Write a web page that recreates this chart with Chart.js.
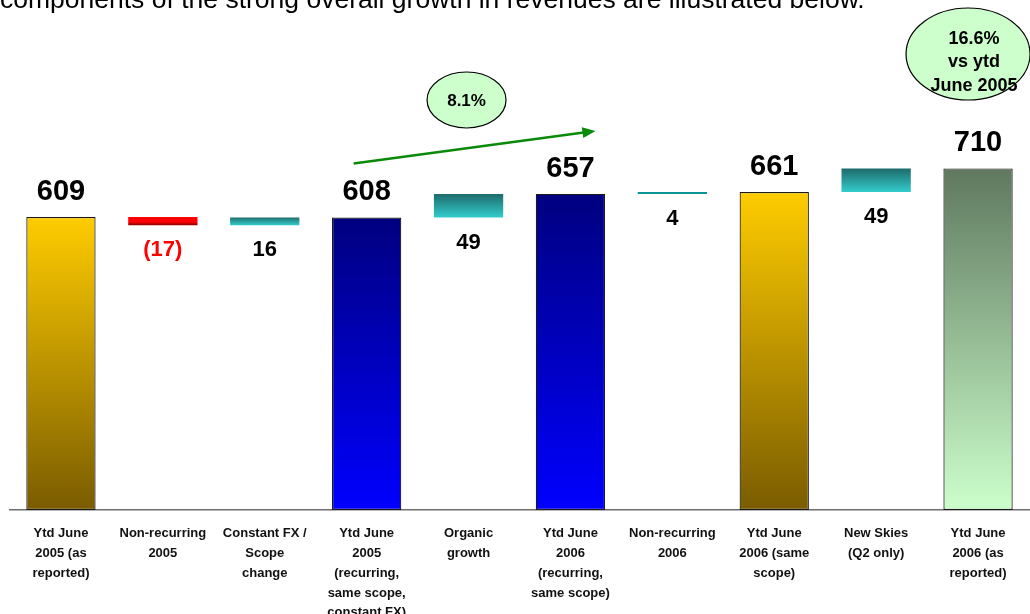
<!DOCTYPE html>
<html>
<head>
<meta charset="utf-8">
<title>Revenue bridge</title>
<script src="https://cdn.jsdelivr.net/npm/chart.js@4/dist/chart.umd.min.js"></script>
<style>
  html, body { margin: 0; padding: 0; background: #fff; }
  #wrap { width: 1030px; height: 614px; position: relative; }
</style>
</head>
<body>
<div id="wrap"><canvas id="myChart"></canvas></div>
<script>
'use strict';

// categories (multi-line x labels)
let categories = [
  ['Ytd June', '2005 (as', 'reported)'],
  ['Non-recurring', '2005'],
  ['Constant FX /', 'Scope', 'change'],
  ['Ytd June', '2005', '(recurring,', 'same scope,', 'constant FX)'],
  ['Organic', 'growth'],
  ['Ytd June', '2006', '(recurring,', 'same scope)'],
  ['Non-recurring', '2006'],
  ['Ytd June', '2006 (same', 'scope)'],
  ['New Skies', '(Q2 only)'],
  ['Ytd June', '2006 (as', 'reported)']
];

// waterfall: bottom and top of every bar
let barStart = [0, 592, 592, 0, 608, 0, 657, 0, 661, 0];
let barEnd = [609, 609, 608, 608, 657, 657, 661, 661, 710, 710];
let valueLabels = ['609', '(17)', '16', '608', '49', '657', '4', '661', '49', '710'];
let isTotal = [true, false, false, true, false, true, false, true, false, true];

let growthLabel = '8.1%';
let totalGrowthLabel = ['16.6%', 'vs ytd', 'June 2005'];
let headerText = 'components of the strong overall growth in revenues are illustrated below.';

// styles, one gradient (top -> bottom) per bar
let barGradients = [
  ['#FFCC00', '#7A5C00'],
  ['#FF0000', '#8A0000'],
  ['#1E6E6E', '#33CCCC'],
  ['#000080', '#0000FF'],
  ['#1E6A6A', '#33CCCC'],
  ['#000080', '#0000FF'],
  ['#0A9090', '#0A9A9A'],
  ['#FFCC00', '#7A5C00'],
  ['#1E6A6A', '#33CCCC'],
  ['#5F785F', '#CCFFCC']
];

const FONT = '"Liberation Sans", Arial, sans-serif';

let floatData = [];
for (let i = 0; i < barStart.length; i++) {
  floatData.push([barStart[i], barEnd[i]]);
}

function barGradient(context) {
  let chart = context.chart;
  let i = context.dataIndex;
  if (!chart.chartArea || i === undefined) return barGradients[0][0];
  let y = chart.scales.y;
  let top = y.getPixelForValue(barEnd[i]);
  let bottom = y.getPixelForValue(barStart[i]);
  if (bottom - top < 1) bottom = top + 1;
  let g = chart.ctx.createLinearGradient(0, top, 0, bottom);
  g.addColorStop(0, barGradients[i][0]);
  if (i === 1) g.addColorStop(0.6, '#FF0000');
  g.addColorStop(1, barGradients[i][1]);
  return g;
}

function drawEllipse(ctx, cx, cy, rx, ry) {
  ctx.beginPath();
  ctx.ellipse(cx, cy, rx, ry, 0, 0, Math.PI * 2);
  ctx.fillStyle = '#CCFFCC';
  ctx.fill();
  ctx.lineWidth = 1.2;
  ctx.strokeStyle = '#000';
  ctx.stroke();
}

const textPlugin = {
  id: 'waterfallText',
  beforeDraw(chart) {
    let ctx = chart.ctx;
    ctx.save();
    ctx.font = '26.5px ' + FONT;
    ctx.fillStyle = '#000';
    ctx.textAlign = 'left';
    ctx.textBaseline = 'alphabetic';
    ctx.fillText(headerText, 0, 7.5);
    ctx.restore();
  },
  afterDatasetsDraw(chart) {
    let ctx = chart.ctx;
    let x = chart.scales.x;
    let y = chart.scales.y;
    ctx.save();
    ctx.textAlign = 'center';
    ctx.textBaseline = 'middle';

    // value labels
    for (let i = 0; i < valueLabels.length; i++) {
      let cx = x.getPixelForValue(i);
      if (isTotal[i]) {
        ctx.font = 'bold 29px ' + FONT;
        ctx.fillStyle = '#000';
        ctx.fillText(valueLabels[i], cx, y.getPixelForValue(barEnd[i]) - 25);
      } else {
        ctx.font = 'bold 22px ' + FONT;
        ctx.fillStyle = valueLabels[i].charAt(0) === '(' ? '#FF0000' : '#000';
        ctx.fillText(valueLabels[i], cx, y.getPixelForValue(barStart[i]) + 25);
      }
    }

    // growth arrow 608 -> 657
    let x0 = x.getPixelForValue(3) - 13;
    let y0 = y.getPixelForValue(barEnd[3]) - 54;
    let x1 = x.getPixelForValue(5) + 25;
    let y1 = y.getPixelForValue(barEnd[5]) - 63;
    let ang = Math.atan2(y1 - y0, x1 - x0);
    ctx.strokeStyle = '#0A8A0A';
    ctx.fillStyle = '#0A8A0A';
    ctx.lineWidth = 2.5;
    ctx.beginPath();
    ctx.moveTo(x0, y0);
    ctx.lineTo(x1 - 10 * Math.cos(ang), y1 - 10 * Math.sin(ang));
    ctx.stroke();
    ctx.beginPath();
    ctx.moveTo(x1, y1);
    ctx.lineTo(x1 - 13 * Math.cos(ang) + 5.5 * Math.sin(ang), y1 - 13 * Math.sin(ang) - 5.5 * Math.cos(ang));
    ctx.lineTo(x1 - 13 * Math.cos(ang) - 5.5 * Math.sin(ang), y1 - 13 * Math.sin(ang) + 5.5 * Math.cos(ang));
    ctx.closePath();
    ctx.fill();

    // 8.1% bubble
    let gx = x.getPixelForValue(4) - 2;
    drawEllipse(ctx, gx, 100, 39.5, 28);
    ctx.font = 'bold 17px ' + FONT;
    ctx.fillStyle = '#000';
    ctx.fillText(growthLabel, gx, 101);

    // 16.6% bubble
    let tx = x.getPixelForValue(9) - 10;
    drawEllipse(ctx, tx, 54, 62, 46);
    ctx.font = 'bold 18px ' + FONT;
    ctx.fillStyle = '#000';
    for (let k = 0; k < totalGrowthLabel.length; k++) {
      ctx.fillText(totalGrowthLabel[k], tx + 6, 39 + k * 23.5);
    }
    ctx.restore();
  }
};

let ctx = document.getElementById('myChart').getContext('2d');
let myChart = new Chart(ctx, {
  type: 'bar',
  data: {
    labels: categories,
    datasets: [{
      label: 'Revenues',
      data: floatData,
      backgroundColor: barGradient,
      borderColor: function (c) { return isTotal[c.dataIndex] ? '#1A1A1A' : 'rgba(0,0,0,0)'; },
      borderWidth: function (c) { return isTotal[c.dataIndex] ? 1.2 : 0; },
      borderSkipped: false,
      categoryPercentage: 1,
      barPercentage: 0.68
    }]
  },
  options: {
    responsive: true,
    maintainAspectRatio: false,
    animation: false,
    layout: { padding: { left: 10, right: 1, top: 0, bottom: 0 } },
    plugins: {
      legend: { display: false },
      tooltip: { enabled: false }
    },
    scales: {
      x: {
        afterFit: function (scale) { scale.height = 104; },
        grid: { display: false, drawTicks: false },
        border: { display: true, color: '#6E6E6E', width: 1.5 },
        ticks: {
          autoSkip: false,
          maxRotation: 0,
          padding: 14,
          color: '#111',
          font: { family: FONT, size: 13, weight: 'bold', lineHeight: 1.52 }
        }
      },
      y: {
        display: false,
        min: 0,
        max: 1060
      }
    }
  },
  plugins: [textPlugin]
});
</script>
</body>
</html>
